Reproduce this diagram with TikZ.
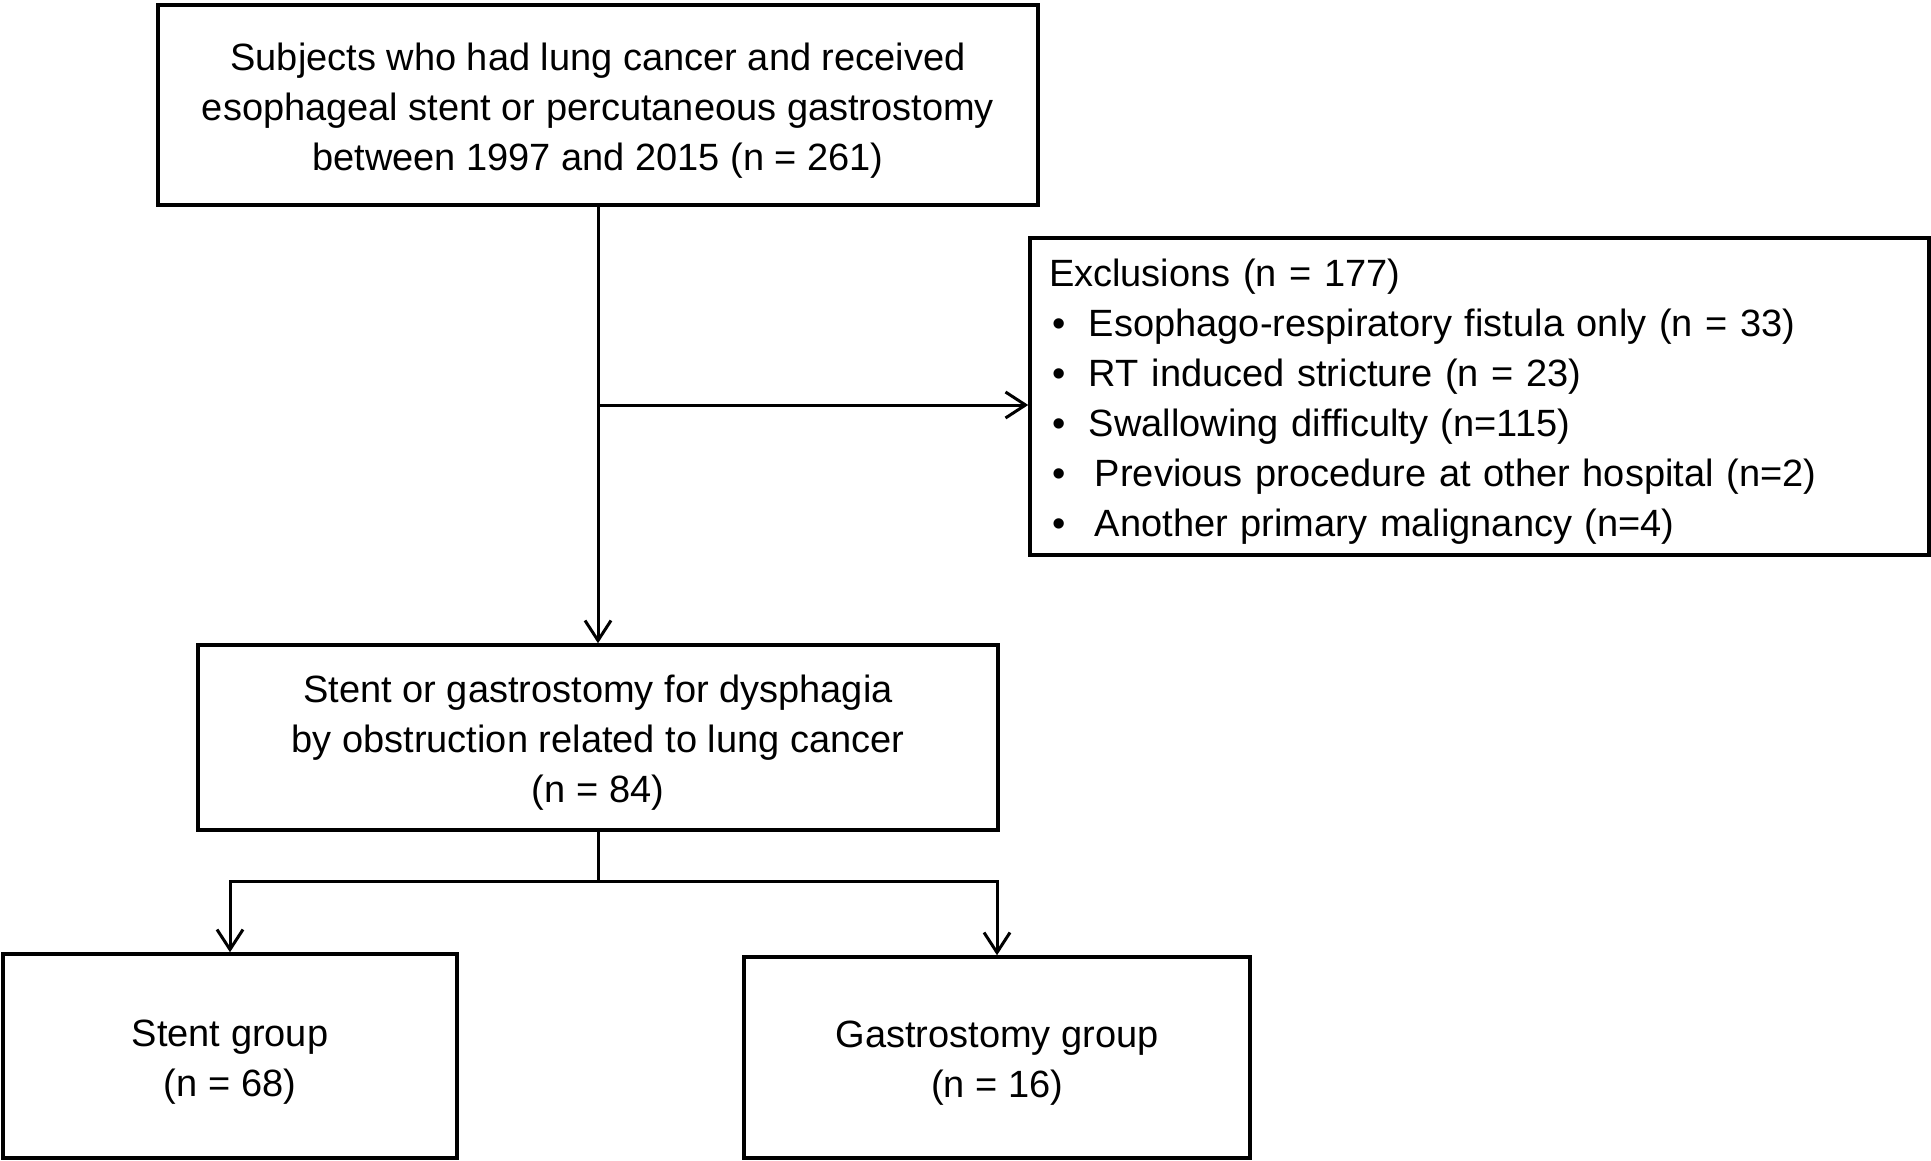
\documentclass[tikz,border=0pt]{standalone}
\usepackage{fontspec}
\setmainfont{Liberation Sans}
\usetikzlibrary{arrows.meta}
\newcommand\mytopstrut{\rule{0pt}{38pt}}
\begin{document}
\begin{tikzpicture}[x=1pt,y=-1pt,
  box/.style={draw, line width=3.5pt, inner sep=0pt, align=center,
    font=\fontsize{38}{50}\selectfont},
  conn/.style={line width=3pt},
  arr/.style={conn, -{Straight Barb[length=20pt,width=26pt,line width=3pt]}}]
\useasboundingbox (0,0) rectangle (1931,1161);
\node[box, minimum width=880pt, minimum height=200pt] (top) at (598,105)
  {\mytopstrut Subjects who had lung cancer and received\\
   esophageal stent or percutaneous gastrostomy\\
   between 1997 and 2015 (n = 261)};
\node[box, minimum width=899pt, minimum height=317pt, text width=861pt, align=left,
  inner xsep=19pt] (excl) at (1479.5,396.5)
  {\mytopstrut Exclusions (n = 177)\\
   \makebox[40pt][l]{\hspace{3pt}•}Esophago-respiratory fistula only (n = 33)\\
   \makebox[40pt][l]{\hspace{3pt}•}RT induced stricture (n = 23)\\
   \makebox[40pt][l]{\hspace{3pt}•}Swallowing difficulty (n=115)\\
   \makebox[46pt][l]{\hspace{3pt}•}Previous procedure at other hospital (n=2)\\
   \makebox[46pt][l]{\hspace{3pt}•}Another primary malignancy (n=4)};
\node[box, minimum width=800pt, minimum height=185pt] (mid) at (598,737.5)
  {\mytopstrut Stent or gastrostomy for dysphagia\\
   by obstruction related to lung cancer\\
   (n = 84)};
\node[box, minimum width=454pt, minimum height=204pt] (stent) at (230,1056)
  {\mytopstrut Stent group\\(n = 68)};
\node[box, minimum width=506pt, minimum height=201pt] (gastro) at (997,1057.5)
  {\mytopstrut Gastrostomy group\\(n = 16)};
\coordinate (j1) at (598,405);
\coordinate (j2) at (598,881);
\draw[arr] (top.south) -- (mid.north);
\draw[arr] (j1) -- (j1 -| excl.west);
\draw[conn] (mid.south) -- (j2);
\draw[arr] (j2) -| (stent.north);
\draw[arr] (j2) -| (gastro.north);
\end{tikzpicture}
\end{document}
